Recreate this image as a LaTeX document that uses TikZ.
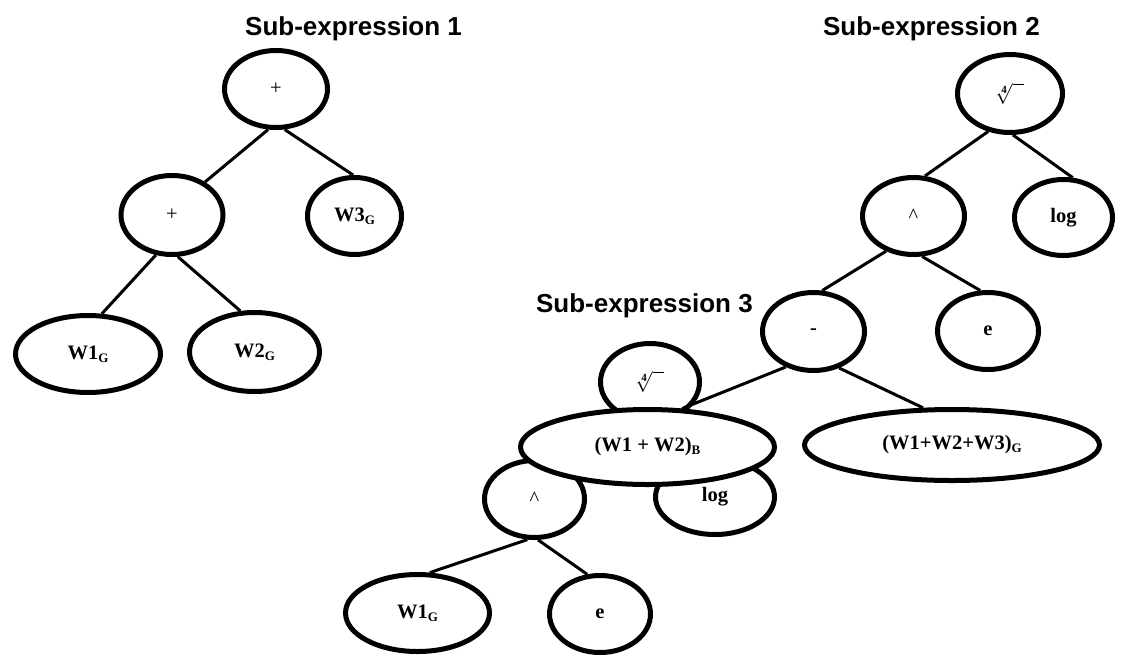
\documentclass[tikz,border=0pt]{standalone}
\usepackage{fontspec}
\setmainfont{Liberation Serif}
\newfontfamily\titlefont{Liberation Sans}
\usetikzlibrary{shapes.geometric}
\newcommand\subG[1]{\raisebox{-3pt}{\fontsize{13}{13}\selectfont\bfseries #1}}
\newcommand\qroot{{\fontsize{22}{22}\selectfont$\sqrt[\mathbf{4}]{\hphantom{x}}$}}
\begin{document}
\begin{tikzpicture}[x=1pt,y=-1pt,
  enode/.style={ellipse, draw, line width=5pt, fill=white, inner sep=0pt,
    font=\fontsize{20.5}{24}\selectfont\bfseries},
  edge/.style={line width=3pt},
  ttl/.style={font=\titlefont\fontsize{26}{30}\selectfont\bfseries, inner sep=0pt}]
\useasboundingbox (0,0) rectangle (1126,656);

% titles
\node[ttl, anchor=base west] (t1) at (245,35) {Sub-expression 1};
\node[ttl, anchor=base east] (t2) at (1040,35) {Sub-expression 2};
\node[ttl, anchor=base east] (t3) at (753,312) {Sub-expression 3};

% Sub-expression 1
\node[enode, minimum width=103pt, minimum height=77pt] (r1) at (276,89) {\mdseries +};
\node[enode, minimum width=102pt, minimum height=79pt] (a1) at (172,215) {\mdseries +};
\node[enode, minimum width=94pt, minimum height=77pt] (w3) at (354.5,216) {W3\subG{G}};
\node[enode, minimum width=145pt, minimum height=77pt] (w1) at (88,354) {W1\subG{G}};
\node[enode, minimum width=130pt, minimum height=79pt] (w2) at (254.5,352) {W2\subG{G}};

% Sub-expression 2
\node[enode, minimum width=105pt, minimum height=78pt] (sroot) at (1010,93.5) {\qroot};
\node[enode, minimum width=102pt, minimum height=77pt] (shat) at (913.5,216) {\mdseries\textasciicircum};
\node[enode, minimum width=98pt, minimum height=76pt] (slog) at (1063.5,217.5) {log};
\node[enode, minimum width=102pt, minimum height=78pt] (sminus) at (813.5,331.5) {-};
\node[enode, minimum width=101pt, minimum height=77pt] (se) at (988,331) {e};
\node[enode, minimum width=295pt, minimum height=71pt] (ssum) at (952,445) {(W1+W2+W3)\subG{G}};

% Sub-expression 3
\node[enode, minimum width=99pt, minimum height=77pt] (troot) at (650,382) {\qroot};
\node[enode, minimum width=100pt, minimum height=77pt] (that) at (534.5,499) {\mdseries\textasciicircum};
\node[enode, minimum width=119pt, minimum height=75pt] (tlog) at (715,497) {log};
\node[enode, minimum width=254pt, minimum height=75pt] (tbig) at (647.5,447) {(W1 + W2)\subG{B}};
\node[enode, minimum width=144pt, minimum height=77pt] (tw1) at (417.5,613) {W1\subG{G}};
\node[enode, minimum width=101pt, minimum height=77pt] (te) at (600,614) {e};

% connectors
\draw[edge] (r1.259) -- (a1.45);
\draw[edge] (r1.282) -- (w3.92);
\draw[edge] (a1.248) -- (w1.71);
\draw[edge] (a1.278) -- (w2.109);

\draw[edge] (sroot.240) -- (shat.74);
\draw[edge] (sroot.274) -- (slog.77);
\draw[edge] (shat.232) -- (sminus.78);
\draw[edge] (shat.282) -- (se.101);
\draw[edge] (sminus.232) -- (tbig.48);
\draw[edge] (sminus.305) -- (ssum.128);

\draw[edge] (that.260) -- (tw1.73);
\draw[edge] (that.275) -- (te.108);
\end{tikzpicture}
\end{document}
